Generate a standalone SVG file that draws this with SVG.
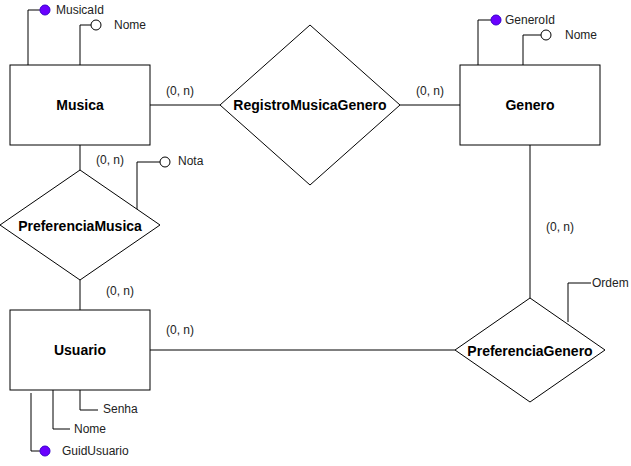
<svg xmlns="http://www.w3.org/2000/svg" width="631" height="466" viewBox="0 0 631 466">
<style>
.ent{fill:#fff;stroke:#000;stroke-width:1}
.rel{fill:#fff;stroke:#000;stroke-width:1}
.ln{fill:none;stroke:#000;stroke-width:1}
.pk{fill:#6a00ff;stroke:#3700cc;stroke-width:1}
.at{fill:#fff;stroke:#000;stroke-width:1}
.t{font-family:"Liberation Sans",Arial,sans-serif;font-size:12px;fill:#222;dominant-baseline:central}
.b{font-family:"Liberation Sans",Arial,sans-serif;font-size:14px;font-weight:bold;fill:#000;text-anchor:middle;dominant-baseline:central}
</style>
<rect width="631" height="466" fill="#fff"/>
<g id="connectors">
<line class="ln" x1="150" y1="105" x2="220" y2="105"/>
<line class="ln" x1="400" y1="105" x2="460" y2="105"/>
<line class="ln" x1="80" y1="145" x2="80" y2="170"/>
<line class="ln" x1="80" y1="280" x2="80" y2="310"/>
<line class="ln" x1="530" y1="145" x2="530" y2="298"/>
<line class="ln" x1="150" y1="350" x2="455" y2="350"/>
<text class="t" x="166" y="91">(0, n)</text>
<text class="t" x="416" y="91">(0, n)</text>
<text class="t" x="96" y="160">(0, n)</text>
<text class="t" x="106" y="291">(0, n)</text>
<text class="t" x="546" y="227">(0, n)</text>
<text class="t" x="166" y="330">(0, n)</text>
</g>
<g id="Musica">
<rect class="ent" x="10" y="65" width="140" height="80"/>
<text class="b" x="80" y="105">Musica</text>
<polyline class="ln" points="28,65 28,10 40,10"/>
<circle class="pk" cx="45" cy="10" r="5"/>
<text class="t" x="56" y="10">MusicaId</text>
<polyline class="ln" points="80,65 80,25 91,25"/>
<circle class="at" cx="96" cy="25" r="5"/>
<text class="t" x="114" y="25">Nome</text>
</g>
<g id="RegistroMusicaGenero">
<polygon class="rel" points="220,105 310,25 400,105 310,185"/>
<text class="b" x="310" y="105">RegistroMusicaGenero</text>
</g>
<g id="Genero">
<rect class="ent" x="460" y="65" width="140" height="80"/>
<text class="b" x="530" y="105">Genero</text>
<polyline class="ln" points="478,65 478,20 491,20"/>
<circle class="pk" cx="496" cy="20" r="5"/>
<text class="t" x="505" y="20">GeneroId</text>
<polyline class="ln" points="523,65 523,35 541,35"/>
<circle class="at" cx="546" cy="35" r="5"/>
<text class="t" x="565" y="35">Nome</text>
</g>
<g id="PreferenciaMusica">
<polygon class="rel" points="0,225 80,170 160,225 80,280"/>
<text class="b" x="80" y="226">PreferenciaMusica</text>
<polyline class="ln" points="137,209 137,162 160,162"/>
<circle class="at" cx="165" cy="162" r="5"/>
<text class="t" x="178" y="161">Nota</text>
</g>
<g id="Usuario">
<rect class="ent" x="10" y="310" width="140" height="80"/>
<text class="b" x="80" y="350">Usuario</text>
<polyline class="ln" points="80,390 80,410 98,410"/>
<text class="t" x="103" y="409">Senha</text>
<polyline class="ln" points="53,390 53,429 70,429"/>
<text class="t" x="74" y="429">Nome</text>
<polyline class="ln" points="31,393 31,451 40,451"/>
<circle class="pk" cx="45" cy="451" r="5"/>
<text class="t" x="62" y="451">GuidUsuario</text>
</g>
<g id="PreferenciaGenero">
<polygon class="rel" points="455,350 530,298 605,350 530,402"/>
<text class="b" x="530" y="351">PreferenciaGenero</text>
<polyline class="ln" points="568,322 568,283 591,283"/>
<text class="t" x="592" y="283">Ordem</text>
</g>
</svg>
